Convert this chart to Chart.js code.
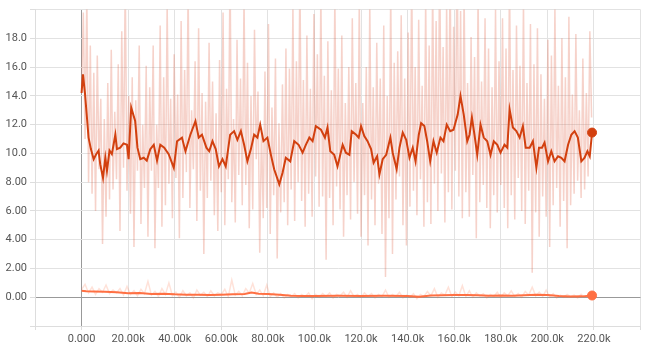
<!DOCTYPE html>
<html>
<head>
<meta charset="utf-8">
<script src="https://cdn.jsdelivr.net/npm/chart.js@4.4.1/dist/chart.umd.min.js"></script>
<style>
  html, body { margin: 0; padding: 0; background: #fff; }
  #wrap { width: 646px; height: 350px; position: relative; }
</style>
</head>
<body>
<div id="wrap"><canvas id="scalarChart"></canvas></div>
<script>
// raw logging intervals (steps between raw points)
const RAW_STEP_A = 750;
const RAW_STEP_B = 1500;

// series A raw values (light pink band)
const rawA = [
  14.5, 19.8, 11.0, 21, 8.0, 17.5, 7.2, 15.6, 6.0, 16.8, 8.9, 13.8, 3.7, 12.4, 5.6, 14.9, 6.8, 17.2, 7.5, 12.9,
  8.2, 16.2, 4.6, 18.5, 9.0, 22, 7.4, 14.0, 5.8, 15.3, 3.5, 13.7, 8.8, 17.5, 5.1, 12.0, 7.6, 16.1, 4.2, 14.6,
  8.8, 17.5, 3.4, 12.0, 7.6, 18.9, 4.9, 15.3, 6.4, 20.4, 7.9, 13.8, 5.5, 16.9, 8.3, 14.1, 4.1, 19.2, 6.9, 15.8,
  8.7, 21.5, 6.2, 13.0, 8.9, 16.4, 5.3, 18.7, 7.4, 14.2, 3.0, 13.6, 6.9, 17.7, 8.1, 15.0, 5.7, 12.8, 4.6, 16.5,
  7.3, 19.8, 5.0, 14.5, 8.2, 23, 6.6, 12.4, 5.2, 17.9, 8.5, 15.2, 6.4, 21.0, 7.8, 16.3, 4.8, 14.0, 6.1, 18.6,
  9.6, 14.3, 3.1, 11.8, 5.5, 15.7, 6.2, 19.0, 4.4, 13.2, 7.1, 16.6, 2.7, 12.1, 5.9, 14.8, 6.6, 17.3, 5.0, 15.9,
  7.5, 20.3, 5.3, 16.4, 8.0, 22.5, 6.7, 15.1, 4.9, 18.2, 7.2, 14.5, 5.6, 19.7, 8.4, 16.9, 6.3, 21.2, 7.0, 15.4,
  2.6, 17.8, 6.9, 14.4, 5.0, 21.0, 7.7, 15.9, 6.1, 18.2, 4.2, 13.5, 7.1, 16.0, 5.4, 19.4, 8.0, 14.9, 5.8, 20.6,
  4.2, 13.5, 7.1, 16.0, 3.6, 20.5, 6.8, 14.6, 5.0, 17.7, 7.9, 15.2, 4.4, 18.9, 1.4, 14.0, 5.5, 21.5, 3.0, 16.3,
  6.8, 17.1, 8.4, 19.6, 5.0, 15.2, 3.6, 18.4, 6.3, 22.6, 7.4, 16.0, 5.7, 19.3, 8.2, 14.7, 4.9, 20.8, 6.6, 17.5,
  5.1, 22.0, 7.9, 19.2, 6.0, 24, 8.6, 17.4, 5.2, 20.3, 7.3, 23.1, 6.1, 18.8, 8.8, 25, 7.0, 19.9, 5.5, 21.4,
  7.3, 14.9, 5.6, 18.1, 8.5, 16.7, 4.1, 21.2, 6.6, 15.0, 7.8, 19.4, 6.2, 17.3, 4.8, 14.6, 7.1, 20.0, 5.9, 16.4,
  7.8, 19.4, 6.2, 17.3, 4.8, 22.7, 7.1, 15.8, 5.4, 18.9, 8.3, 16.1, 6.0, 20.6, 5.1, 14.9, 7.4, 19.0, 1.7, 16.2,
  5.9, 18.7, 4.2, 15.5, 7.0, 13.8, 5.6, 17.9, 3.5, 16.8, 6.4, 20.1, 7.6, 14.7, 4.9, 18.0, 6.7, 15.3, 3.4, 19.5,
  6.4, 14.1, 7.2, 18.3, 8.1, 13.0, 6.9, 16.6, 7.5, 14.2, 8.4, 18.5, 12.5
];

// series B raw values (light orange, near zero)
const rawB = [
  0.55, 0.9, 0.3, 0.7, 0.2, 0.6, 0.35, 0.85, 0.25, 0.5,
  0.3, 0.6, 0.15, 0.75, 0.2, 0.45, 0.1, 0.55, 0.25, 1.1,
  0.15, 0.4, 0.05, 0.6, 0.2, 1.0, 0.1, 0.35, 0.0, 0.45,
  0.1, 0.3, -0.05, 0.5, 0.15, 0.35, 0.05, 0.45, 0.1, 0.3,
  0.2, 0.55, 0.05, 1.2, 0.15, 0.4, 0.1, 0.6, 0.3, 0.95,
  0.2, 0.5, 0.1, 0.85, 0.05, 0.3, 0.0, 0.25, -0.05, 0.2,
  0.05, 0.25, -0.05, 0.2, 0.05, 0.3, -0.1, 0.2, 0.0, 0.25,
  0.05, 0.3, -0.05, 0.2, 0.1, 0.35, 0.0, 0.45, 0.05, 0.2,
  0.0, 0.3, 0.05, 0.25, -0.05, 0.2, 0.05, 0.5, 0.0, 0.2,
  0.05, 0.35, -0.05, 0.15, 0.0, 0.25, -0.1, 0.2, 0.05, 0.4,
  0.1, 0.6, 0.0, 0.3, 0.15, 0.7, 0.05, 0.35, 0.1, 0.8,
  0.05, 0.45, 0.0, 0.3, 0.1, 0.25, -0.05, 0.2, 0.05, 0.35,
  0.0, 0.3, 0.1, 0.45, 0.05, 0.25, 0.0, 0.4, 0.15, 0.7,
  0.1, 0.35, 0.05, 0.5, 0.0, 0.25, -0.05, 0.15, 0.0, 0.2,
  0.05, 0.15, -0.05, 0.2, 0.0, 0.15, 0.1
];

// series A smoothed (steps in thousands)
const smoothStepsA = [
  0, 0.6, 1.5, 2.3, 3, 4, 5.2, 6.3, 7.3, 8, 9.2, 10.2, 10.9, 12, 13, 14.5, 15.2, 16.6, 18, 19.5,
  20.2, 21.3, 23, 24, 25.2, 26.7, 28, 29.5, 31, 32.4, 33.8, 35.5, 37.4, 39.6, 41, 43.1, 44.6, 46.7, 48.9, 50.3,
  51.7, 53.6, 54.8, 56.2, 57.6, 59, 60.5, 61.9, 63.8, 65.5, 66.9, 68.4, 69.8, 71.2, 72.7, 74.1, 75.5, 76.7, 78.1, 79.8,
  81.3, 82.7, 84.9, 86.3, 87.7, 89.6, 91.3, 93.2, 94.9, 96.3, 97.8, 99.2, 100.6, 102.8, 104.5, 105.6, 106.8, 108.5, 109.9, 112.1,
  113.5, 115, 116, 117.9, 119, 120, 121.4, 122.8, 124.3, 125.4, 126.9, 127.9, 129.3, 130.8, 132.6, 133.6, 135.3, 136.5, 137.9, 139.4,
  140.8, 142.2, 143.4, 144.8, 145.8, 147.2, 148.4, 149.7, 151.1, 152.5, 154.1, 155.4, 156.8, 158.3, 159.7, 161.5, 162.7, 164.1, 165.6, 166.6,
  167.6, 168.7, 169.9, 171.3, 172.7, 174.2, 175.6, 177, 178.5, 179.9, 181.6, 182.8, 183.8, 185.2, 186.7, 188.1, 189.5, 190.7, 192.4, 193.8,
  195.3, 196.4, 197.7, 198.8, 200.3, 201.7, 203.1, 204.6, 206, 207.4, 208.9, 210.3, 211.7, 213.1, 214.6, 216, 217.2, 218.2, 219.2
];
const smoothA = [
  14.2, 15.5, 14.1, 12.5, 11.1, 10.3, 9.6, 9.95, 10.2, 9.25, 8.3, 9.7, 8.8, 10.2, 9.95, 11.3, 10.3, 10.4, 10.7, 10.6,
  9.6, 13.2, 12.25, 10.4, 9.6, 9.7, 9.5, 10.3, 10.6, 9.5, 10.6, 10.4, 9.95, 9.0, 10.85, 11.1, 10.15, 11.3, 12.25, 11.1,
  11.3, 10.4, 10.15, 10.85, 10.3, 9.1, 9.6, 9.1, 11.3, 11.55, 10.95, 11.55, 10.6, 9.45, 10.3, 11.3, 11.1, 12.0, 10.85, 11.1,
  9.9, 8.9, 7.85, 8.65, 9.7, 9.45, 10.85, 10.6, 10.05, 10.6, 11.1, 10.85, 11.9, 11.65, 11.1, 11.8, 10.15, 9.9, 9.1, 10.6,
  10.05, 9.9, 11.55, 11.3, 11.1, 11.9, 11.2, 10.85, 10.3, 9.35, 9.8, 8.55, 9.6, 9.9, 11.1, 10.05, 8.9, 10.4, 11.45, 10.95,
  9.7, 10.4, 9.45, 11.3, 12.1, 11.9, 10.85, 9.45, 10.85, 10.05, 11.1, 10.85, 12.0, 11.55, 11.65, 12.7, 14.0, 12.7, 10.85, 11.3,
  12.5, 11.3, 9.9, 12.0, 11.1, 10.85, 9.9, 10.85, 10.6, 10.05, 10.6, 10.4, 13.05, 11.8, 11.55, 11.1, 11.9, 10.4, 10.4, 10.85,
  9.0, 10.4, 10.4, 10.75, 9.45, 10.15, 9.45, 9.8, 9.7, 9.45, 10.6, 11.3, 11.55, 11.1, 9.45, 9.7, 10.15, 9.8, 11.45
];

// series B smoothed (steps in thousands)
const smoothStepsB = [
  0, 2, 5, 10, 15, 20, 25, 30, 35, 40, 45, 50, 55, 60, 65, 70, 73, 76, 80, 85,
  90, 95, 100, 110, 120, 130, 140, 145, 150, 155, 160, 165, 170, 175, 180, 185, 190, 195, 200, 205,
  210, 215, 219.2
];
const smoothB = [
  0.45, 0.42, 0.4, 0.38, 0.35, 0.28, 0.3, 0.22, 0.25, 0.2, 0.18, 0.17, 0.15, 0.18, 0.2, 0.22, 0.32, 0.25, 0.22, 0.18,
  0.1, 0.08, 0.09, 0.1, 0.09, 0.1, 0.08, 0.04, 0.12, 0.14, 0.15, 0.16, 0.14, 0.1, 0.12, 0.1, 0.14, 0.18, 0.15, 0.08,
  0.05, 0.06, 0.12
];

const yTicksHidden = [-2, 20];
const xTicksHidden = [-20000, 240000];

const colorA = "#d2400f";
const colorB = "#ff7043";

const toPts = (steps, vals) => vals.map((v, i) => ({ x: steps[i] * 1000, y: v }));
const rawPts = (vals, every) => vals.map((v, i) => ({ x: i * every, y: v }));

const lastA = { x: smoothStepsA[smoothStepsA.length - 1] * 1000, y: smoothA[smoothA.length - 1] };
const lastB = { x: smoothStepsB[smoothStepsB.length - 1] * 1000, y: smoothB[smoothB.length - 1] };

const ctx = document.getElementById("scalarChart").getContext("2d");

new Chart(ctx, {
  type: "line",
  data: {
    datasets: [
      { data: [lastA], borderColor: colorA, backgroundColor: colorA, pointRadius: 4.5, showLine: false, order: 0 },
      { data: [lastB], borderColor: colorB, backgroundColor: colorB, pointRadius: 4.5, showLine: false, order: 0 },
      { data: toPts(smoothStepsA, smoothA), borderColor: colorA, borderWidth: 2, pointRadius: 0, order: 1 },
      { data: toPts(smoothStepsB, smoothB), borderColor: colorB, borderWidth: 2, pointRadius: 0, order: 2 },
      { data: rawPts(rawB, RAW_STEP_B), borderColor: "rgba(255,112,67,0.2)", borderWidth: 1.5, pointRadius: 0, order: 3 },
      { data: rawPts(rawA, RAW_STEP_A), borderColor: "rgba(222,95,65,0.28)", borderWidth: 1.5, pointRadius: 0, order: 4 }
    ]
  },
  options: {
    responsive: true,
    maintainAspectRatio: false,
    animation: false,
    layout: { padding: { top: 9, right: 5, left: 0, bottom: 0 } },
    elements: { line: { tension: 0 } },
    plugins: { legend: { display: false }, tooltip: { enabled: false } },
    scales: {
      x: {
        type: "linear",
        min: -20000,
        max: 240000,
        afterFit: (s) => { s.height = 24; },
        border: { color: "#ddd" },
        grid: {
          color: (c) => (c.tick && c.tick.value === 0 ? "#999" : "#e2e2e2"),
          tickColor: "#ddd",
          tickLength: 4
        },
        ticks: {
          stepSize: 20000,
          padding: 3,
          maxRotation: 0,
          autoSkip: false,
          color: "#555",
          font: { family: "Roboto", size: 11 },
          callback: (v) => {
            if (xTicksHidden.includes(v)) return "";
            if (v === 0) return "0.000";
            const k = v / 1000;
            return k < 100 ? k.toFixed(2) + "k" : k.toFixed(1) + "k";
          }
        }
      },
      y: {
        min: -2,
        max: 20,
        afterFit: (s) => { s.width = 35; },
        border: { color: "#ddd" },
        grid: {
          color: (c) => (c.tick && c.tick.value === 0 ? "#999" : "#e2e2e2"),
          tickColor: "#ddd",
          tickLength: 5
        },
        ticks: {
          stepSize: 2,
          padding: 3,
          color: "#555",
          font: { family: "Roboto", size: 11 },
          callback: (v) => {
            if (yTicksHidden.includes(v)) return "";
            return v < 10 ? v.toFixed(2) : v.toFixed(1);
          }
        }
      }
    }
  }
});
</script>
</body>
</html>
